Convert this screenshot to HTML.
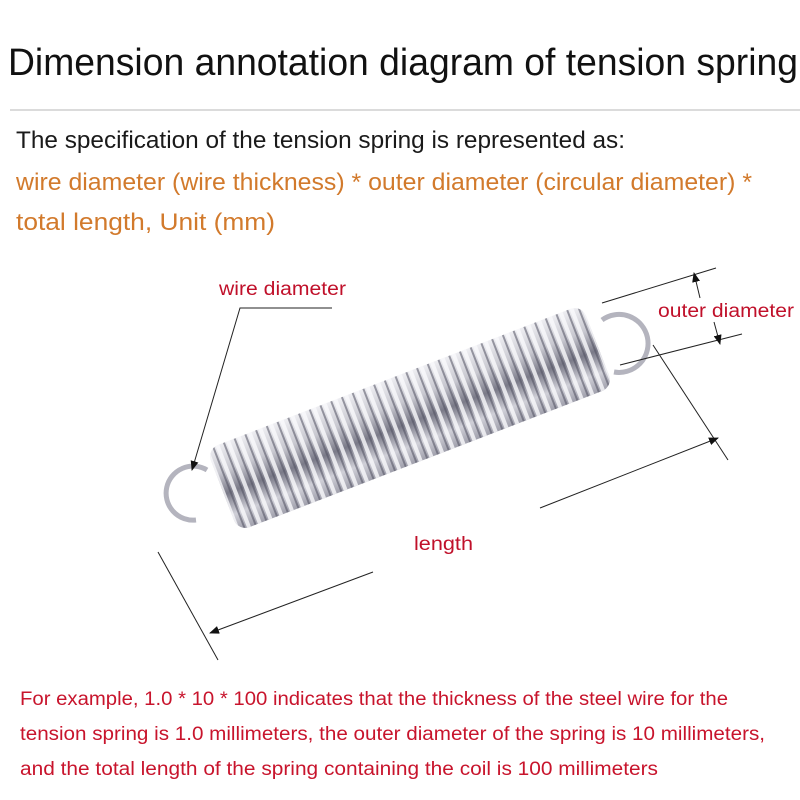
<!DOCTYPE html>
<html><head><meta charset="utf-8"><style>
html,body{margin:0;padding:0;background:#fff;}
svg{display:block;}
text{font-family:"Liberation Sans Narrow","Liberation Sans",sans-serif;}
</style></head><body>
<svg width="800" height="800" viewBox="0 0 800 800" xmlns="http://www.w3.org/2000/svg">
<defs>
<linearGradient id="body" x1="0" y1="0" x2="0" y2="1">
<stop offset="0" stop-color="#eeeef2"/>
<stop offset="0.3" stop-color="#c8c8d0"/>
<stop offset="0.55" stop-color="#7a7a88"/>
<stop offset="0.8" stop-color="#d0d0d8"/>
<stop offset="1" stop-color="#a0a0ac"/>
</linearGradient>
<pattern id="coil" width="11.5" height="100" patternUnits="userSpaceOnUse">
<rect x="0" y="0" width="4" height="100" fill="#fafafc" opacity="0.8"/>
<rect x="8" y="0" width="2" height="100" fill="#505060" opacity="0.55"/>
</pattern>
<marker id="ar" markerWidth="10" markerHeight="8" refX="9" refY="4" orient="auto" markerUnits="userSpaceOnUse">
<path d="M0,0 L10,4 L0,8 Z" fill="#111"/>
</marker>
</defs>

<text x="8" y="75" font-size="38" fill="#111" textLength="790" lengthAdjust="spacingAndGlyphs">Dimension annotation diagram of tension spring</text>
<line x1="10" y1="110" x2="800" y2="110" stroke="#cfcfcf" stroke-width="1.5"/>
<text x="16" y="148" font-size="24" fill="#1a1a1a" textLength="609" lengthAdjust="spacingAndGlyphs">The specification of the tension spring is represented as:</text>
<text x="16" y="190" font-size="24" fill="#d27a2c" textLength="736" lengthAdjust="spacingAndGlyphs">wire diameter (wire thickness) * outer diameter (circular diameter) *</text>
<text x="16" y="230" font-size="24" fill="#d27a2c" textLength="259" lengthAdjust="spacingAndGlyphs">total length,   Unit (mm)</text>

<!-- spring body -->
<g transform="rotate(-21.1 410 418)">
<rect x="209" y="374" width="402" height="88" rx="12" fill="url(#body)"/>
<rect x="209" y="374" width="402" height="88" rx="12" fill="url(#coil)"/>
</g>

<!-- hooks -->
<path d="M207,470 A27,27 0 1 0 196,520" fill="none" stroke="#b4b4be" stroke-width="5"/>
<path d="M602,320 A29,29 0 1 1 614,372" fill="none" stroke="#b4b4be" stroke-width="5"/>

<!-- wire diameter leader -->
<text x="219" y="295" font-size="19" fill="#c0102a" textLength="127" lengthAdjust="spacingAndGlyphs">wire diameter</text>
<polyline points="332,308 240,308 192,470" fill="none" stroke="#222" stroke-width="1" marker-end="url(#ar)"/>

<!-- outer diameter -->
<text x="658" y="317" font-size="19" fill="#c0102a" textLength="136" lengthAdjust="spacingAndGlyphs">outer diameter</text>
<line x1="602" y1="303" x2="716" y2="268" stroke="#222" stroke-width="1"/>
<line x1="620" y1="365" x2="742" y2="334" stroke="#222" stroke-width="1"/>
<line x1="700" y1="298" x2="694" y2="273" stroke="#222" stroke-width="1" marker-end="url(#ar)"/>
<line x1="714" y1="322" x2="720" y2="344" stroke="#222" stroke-width="1" marker-end="url(#ar)"/>

<!-- length -->
<text x="414" y="550" font-size="19" fill="#c0102a" textLength="59" lengthAdjust="spacingAndGlyphs">length</text>
<line x1="653" y1="345" x2="728" y2="460" stroke="#222" stroke-width="1"/>
<line x1="158" y1="552" x2="218" y2="660" stroke="#222" stroke-width="1"/>
<line x1="540" y1="508" x2="718" y2="438" stroke="#222" stroke-width="1" marker-end="url(#ar)"/>
<line x1="373" y1="572" x2="210" y2="633" stroke="#222" stroke-width="1" marker-end="url(#ar)"/>

<text x="20" y="705" font-size="19" fill="#c8142c" textLength="708" lengthAdjust="spacingAndGlyphs">For example, 1.0 * 10 * 100 indicates that the thickness of the steel wire for the</text>
<text x="20" y="740" font-size="19" fill="#c8142c" textLength="745" lengthAdjust="spacingAndGlyphs">tension spring is 1.0 millimeters, the outer diameter of the spring is 10 millimeters,</text>
<text x="20" y="775" font-size="19" fill="#c8142c" textLength="638" lengthAdjust="spacingAndGlyphs">and the total length of the spring containing the coil is 100 millimeters</text>
</svg>
</body></html>
